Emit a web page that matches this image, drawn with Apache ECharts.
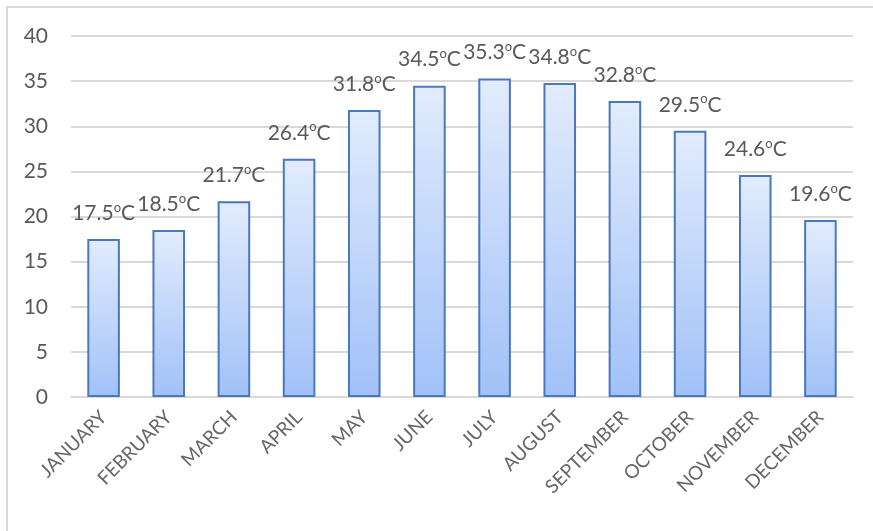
<!DOCTYPE html>
<html>
<head>
<meta charset="utf-8">
<script src="https://cdn.jsdelivr.net/npm/echarts@6/dist/echarts.min.js"></script>
<style>
html,body{margin:0;padding:0;background:#fff;}
#frame{position:absolute;left:6px;top:6px;width:900px;height:560px;border-top:2px solid #d9d9d9;border-left:2px solid #d9d9d9;}
#chart{position:absolute;left:0;top:0;width:873px;height:531px;}
</style>
</head>
<body>
<div id="frame"></div>
<div id="chart"></div>
<script>
var months = ['JANUARY','FEBRUARY','MARCH','APRIL','MAY','JUNE','JULY','AUGUST','SEPTEMBER','OCTOBER','NOVEMBER','DECEMBER'];
var temps = [17.5, 18.5, 21.7, 26.4, 31.8, 34.5, 35.3, 34.8, 32.8, 29.5, 24.6, 19.6];
var yMin = 0, yMax = 40, yStep = 5;

var chart = echarts.init(document.getElementById('chart'));
var font = 'Lato, "Open Sans", sans-serif';
chart.setOption({
  animation: false,
  grid: {left: 71, right: 20, top: 36, bottom: 134},
  xAxis: {
    type: 'category',
    data: months,
    axisLine: {lineStyle: {color: '#d9d9d9', width: 2}},
    axisTick: {show: false},
    axisLabel: {rotate: 45, color: '#666666', fontSize: 19, fontFamily: font, margin: 17, interval: 0}
  },
  yAxis: {
    type: 'value',
    min: yMin, max: yMax, interval: yStep,
    axisLine: {show: false},
    axisTick: {show: false},
    splitLine: {lineStyle: {color: '#d9d9d9', width: 2}},
    axisLabel: {color: '#595959', fontSize: 21, fontFamily: font, margin: 23}
  },
  series: [{
    type: 'bar',
    data: temps,
    barWidth: '50%',
    itemStyle: {
      borderColor: '#4a78bd',
      borderWidth: 2,
      color: new echarts.graphic.LinearGradient(0, 0, 0, 1, [
        {offset: 0, color: '#e2ecfd'},
        {offset: 1, color: '#a1c1f8'}
      ])
    },
    label: {
      show: true,
      position: 'top',
      distance: 14,
      formatter: function (p) { return '{v|' + p.value.toFixed(1) + '}{s|o}{v|C}'; },
      rich: {
        v: {fontSize: 21, color: '#595959', fontFamily: font, lineHeight: 24},
        s: {fontSize: 13, color: '#595959', fontFamily: font, verticalAlign: 'top', lineHeight: 24, padding: [0, 0, 9, 0]}
      }
    }
  }]
});
</script>
</body>
</html>
